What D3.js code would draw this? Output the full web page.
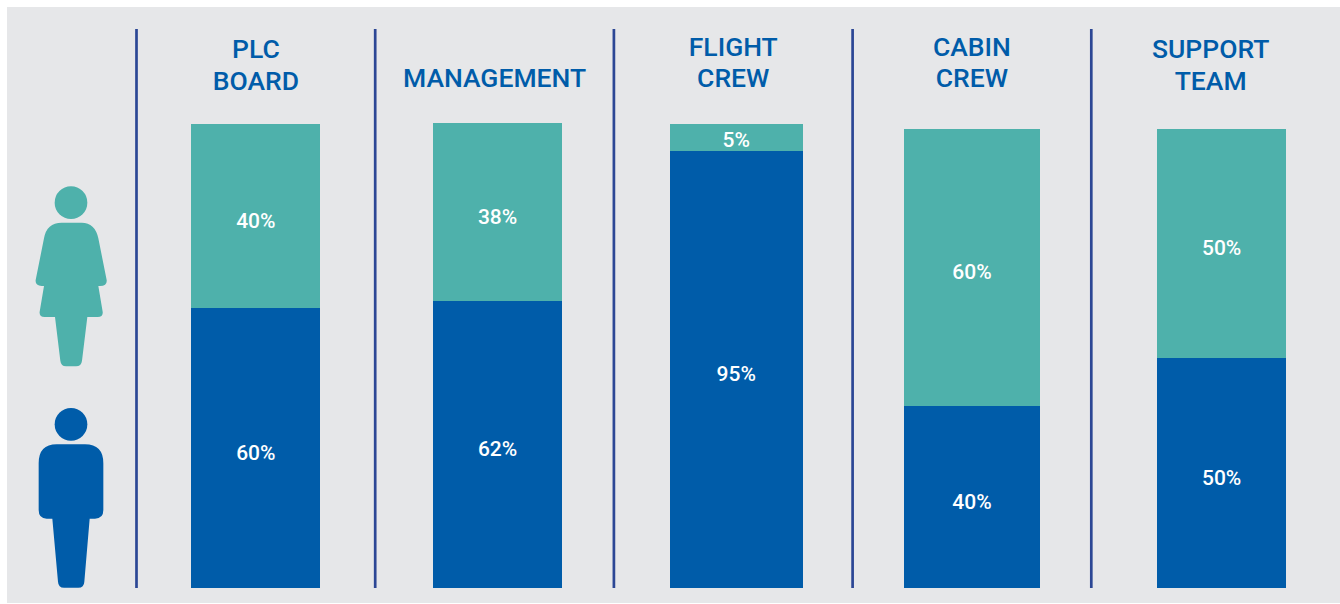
<!DOCTYPE html>
<html>
<head>
<meta charset="utf-8">
<script src="https://cdn.jsdelivr.net/npm/d3@7"></script>
<style>
  html, body { margin: 0; padding: 0; background: #fff; overflow: hidden; }
  text { font-family: Roboto, sans-serif; }
</style>
</head>
<body>
<div class="chart"></div>
<script>
// Data
var categories = ["PLC BOARD", "MANAGEMENT", "FLIGHT CREW", "CABIN CREW", "SUPPORT TEAM"];
var titleLines = [["PLC", "BOARD"], ["MANAGEMENT"], ["FLIGHT", "CREW"], ["CABIN", "CREW"], ["SUPPORT", "TEAM"]];

// segment sizes as they are drawn, in percent of the tallest bar
var menDrawn = [60.3, 61.85, 94.2, 39.2, 49.6];
var womenDrawn = [39.7, 38.35, 5.8, 59.7, 49.3];

// percentages as they are printed on the bars
var menLabels = ["60%", "62%", "95%", "40%", "50%"];
var womenLabels = ["40%", "38%", "5%", "60%", "50%"];

// layout, the bars are not evenly placed in the original
var barWidths = [129, 129, 133, 136, 129];
var barNudge = [0, 3, 3, 0, 11];
var titleBaseline = [58, 87, 56, 56, 58];
var titleGap = [32, 0, 30.5, 30.5, 32];

var svgWidth = 1340;
var svgHeight = 604;
var baseline = 588;
var barTop = 124;

var colors = { panel: "#e6e7e9", teal: "#4eb1ab", blue: "#005ca9", rule: "#2c4795" };

var svg = d3.select(".chart")
  .append("svg")
  .attr("width", svgWidth)
  .attr("height", svgHeight)
  .style("display", "block");

// grey panel
svg.append("rect")
  .attr("x", 7)
  .attr("y", 7)
  .attr("width", svgWidth - 7)
  .attr("height", svgHeight - 8)
  .attr("fill", colors.panel);

var xBand = d3.scaleBand()
  .domain(categories)
  .range([136.5, 1330])
  .padding(0);

var yScale = d3.scaleLinear()
  .domain([0, 100])
  .range([baseline, barTop]);

var rows = categories.map(function(c, i) {
  return { category: c, index: i, men: menDrawn[i], women: womenDrawn[i] };
});

var series = d3.stack().keys(["men", "women"])(rows);
var fills = { men: colors.blue, women: colors.teal };
var printed = { men: menLabels, women: womenLabels };

function barCentre(i) {
  return xBand(categories[i]) + xBand.bandwidth() / 2 + barNudge[i];
}

// divider to the left of each column
svg.append("g")
  .selectAll("line")
  .data(categories)
  .enter()
  .append("line")
  .attr("x1", d => xBand(d))
  .attr("x2", d => xBand(d))
  .attr("y1", 29)
  .attr("y2", baseline)
  .attr("stroke", colors.rule)
  .attr("stroke-width", 2.7);

// stacked bars
var layers = svg.selectAll("g.layer")
  .data(series)
  .enter()
  .append("g")
  .attr("class", "layer")
  .attr("fill", d => fills[d.key]);

layers.selectAll("rect")
  .data(d => d)
  .enter()
  .append("rect")
  .attr("x", d => barCentre(d.data.index) - barWidths[d.data.index] / 2)
  .attr("width", d => barWidths[d.data.index])
  .attr("y", d => yScale(d[1]))
  .attr("height", d => yScale(d[0]) - yScale(d[1]))
  .attr("shape-rendering", "crispEdges");

// white percentages, sitting a little under the middle of each segment
layers.each(function(s) {
  d3.select(this).selectAll("text")
    .data(s)
    .enter()
    .append("text")
    .attr("x", d => barCentre(d.data.index))
    .attr("y", function(d) {
      var segment = yScale(d[0]) - yScale(d[1]);
      return (yScale(d[0]) + yScale(d[1])) / 2 + (segment < 40 ? 2.5 : 4.5);
    })
    .attr("dy", "0.35em")
    .attr("text-anchor", "middle")
    .attr("fill", "#fff")
    .style("font-size", "21px")
    .style("font-weight", 500)
    .text(d => printed[s.key][d.data.index]);
});

// column titles
var titles = svg.append("g")
  .selectAll("text")
  .data(categories)
  .enter()
  .append("text")
  .attr("text-anchor", "middle")
  .attr("fill", colors.blue)
  .style("font-size", "26.5px")
  .style("font-weight", 500);

titles.each(function(c, i) {
  var cx = xBand(c) + xBand.bandwidth() / 2;
  d3.select(this).selectAll("tspan")
    .data(titleLines[i])
    .enter()
    .append("tspan")
    .attr("x", cx)
    .attr("y", (d, j) => titleBaseline[i] + j * titleGap[i])
    .text(d => d);
});

// woman and man icons, traced at 3x so they are scaled back down
var womanPath = "M185,158 L245,158 Q285,158 295,205 L320,330 Q322,347 300,348 L295,348 L308,425 Q310,441 293,441 " +
  "L262,441 L246,572 Q244,589 228,589 L198,589 Q183,589 181,572 L165,441 L134,441 Q117,441 119,425 L132,348 L125,348 " +
  "Q105,347 107,330 L132,205 Q140,158 185,158 Z";
var manPath = "M170,148 L255,148 Q310,148 310,205 L310,345 Q310,371 285,371 L269,371 L253,560 Q252,578 235,578 " +
  "L192,578 Q175,578 174,560 L157,371 L140,371 Q116,371 116,345 L116,205 Q116,148 170,148 Z";

var woman = svg.append("g")
  .attr("transform", "translate(0,170) scale(" + 1 / 3 + ")")
  .attr("fill", colors.teal);
woman.append("circle").attr("cx", 213).attr("cy", 98).attr("r", 49);
woman.append("path").attr("d", womanPath);

var man = svg.append("g")
  .attr("transform", "translate(0,395) scale(" + 1 / 3 + ")")
  .attr("fill", colors.blue);
man.append("circle").attr("cx", 213).attr("cy", 88).attr("r", 49);
man.append("path").attr("d", manPath);
</script>
</body>
</html>
